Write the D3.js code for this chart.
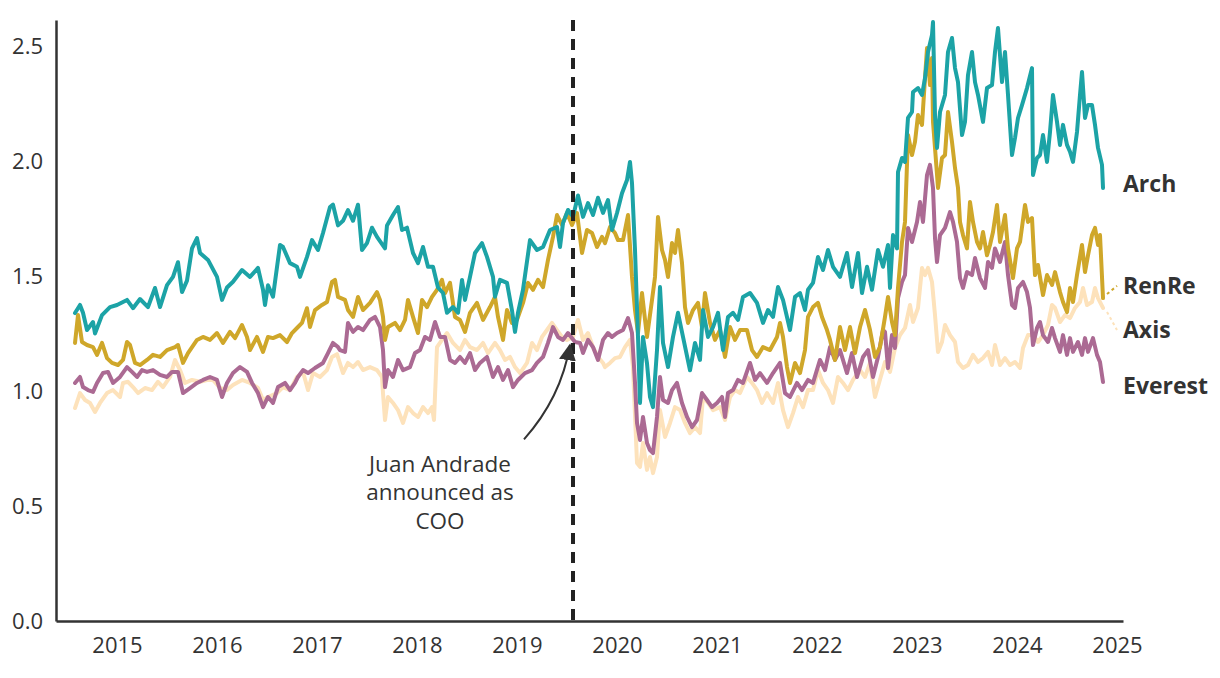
<!DOCTYPE html>
<html><head><meta charset="utf-8">
<script src="https://cdn.jsdelivr.net/npm/d3@7"></script>
<style>
body{margin:0;background:#fff;}
svg{display:block;font-family:"Open Sans",sans-serif;}
</style></head>
<body><svg id="chart" width="1220" height="678"></svg>
<script>
const yTicks=[0,0.5,1.0,1.5,2.0,2.5];
const xTicks=[2015,2016,2017,2018,2019,2020,2021,2022,2023,2024,2025];
const seriesNames=["Axis","Everest","RenRe","Arch"];
const seriesColors={Arch:"#1ca3a6",RenRe:"#cfa72a",Everest:"#ab6a93",Axis:"#fde2bb"};
const labelValues={Arch:1.90,RenRe:1.457,Axis:1.265,Everest:1.022};
const eventYear=2019.56;
const annotationLines=["Juan Andrade","announced as","COO"];

const archData=[[2014.58,1.339],[2014.63,1.374],[2014.66,1.34],[2014.70,1.265],[2014.76,1.30],[2014.78,1.25],[2014.85,1.33],[2014.93,1.365],[2015.00,1.374],[2015.10,1.396],[2015.16,1.36],[2015.23,1.40],[2015.31,1.365],[2015.38,1.448],[2015.43,1.365],[2015.50,1.46],[2015.56,1.496],[2015.61,1.56],[2015.65,1.43],[2015.70,1.48],[2015.75,1.62],[2015.80,1.665],[2015.83,1.60],[2015.91,1.57],[2016.00,1.496],[2016.05,1.396],[2016.10,1.45],[2016.16,1.475],[2016.25,1.526],[2016.33,1.496],[2016.41,1.535],[2016.46,1.44],[2016.48,1.374],[2016.51,1.46],[2016.56,1.41],[2016.63,1.635],[2016.66,1.626],[2016.73,1.556],[2016.80,1.54],[2016.83,1.496],[2016.90,1.583],[2016.95,1.656],[2017.01,1.613],[2017.06,1.687],[2017.13,1.80],[2017.16,1.81],[2017.21,1.72],[2017.26,1.74],[2017.31,1.787],[2017.36,1.74],[2017.41,1.81],[2017.45,1.613],[2017.50,1.643],[2017.55,1.71],[2017.60,1.67],[2017.68,1.62],[2017.70,1.72],[2017.76,1.765],[2017.81,1.80],[2017.85,1.70],[2017.90,1.71],[2017.96,1.60],[2018.01,1.556],[2018.06,1.626],[2018.11,1.54],[2018.16,1.54],[2018.21,1.45],[2018.26,1.426],[2018.30,1.34],[2018.36,1.365],[2018.41,1.34],[2018.45,1.483],[2018.48,1.396],[2018.53,1.496],[2018.58,1.60],[2018.65,1.643],[2018.70,1.583],[2018.76,1.496],[2018.78,1.41],[2018.83,1.483],[2018.90,1.47],[2018.95,1.35],[2018.98,1.257],[2019.01,1.34],[2019.06,1.44],[2019.13,1.656],[2019.20,1.613],[2019.26,1.626],[2019.33,1.70],[2019.40,1.713],[2019.43,1.626],[2019.46,1.73],[2019.51,1.787],[2019.56,1.757],[2019.61,1.85],[2019.66,1.757],[2019.71,1.817],[2019.76,1.765],[2019.81,1.84],[2019.86,1.774],[2019.91,1.83],[2019.95,1.70],[2020.00,1.774],[2020.05,1.86],[2020.10,1.917],[2020.13,1.996],[2020.15,1.904],[2020.18,1.613],[2020.21,1.235],[2020.23,0.948],[2020.26,1.235],[2020.30,1.12],[2020.33,0.974],[2020.36,0.93],[2020.40,1.178],[2020.43,1.452],[2020.46,1.209],[2020.51,1.104],[2020.56,1.235],[2020.61,1.34],[2020.66,1.235],[2020.73,1.09],[2020.78,1.209],[2020.83,1.135],[2020.86,1.352],[2020.91,1.235],[2020.96,1.278],[2021.01,1.34],[2021.06,1.178],[2021.11,1.322],[2021.16,1.34],[2021.21,1.309],[2021.26,1.409],[2021.33,1.426],[2021.40,1.383],[2021.46,1.296],[2021.51,1.352],[2021.56,1.322],[2021.61,1.452],[2021.66,1.396],[2021.73,1.265],[2021.78,1.409],[2021.83,1.426],[2021.88,1.352],[2021.91,1.44],[2021.96,1.47],[2022.01,1.583],[2022.06,1.526],[2022.11,1.613],[2022.16,1.54],[2022.23,1.496],[2022.30,1.60],[2022.35,1.452],[2022.41,1.60],[2022.45,1.426],[2022.50,1.54],[2022.55,1.44],[2022.61,1.613],[2022.66,1.54],[2022.71,1.635],[2022.73,1.448],[2022.76,1.678],[2022.80,1.62],[2022.81,1.952],[2022.85,2.013],[2022.88,1.996],[2022.91,2.187],[2022.95,2.213],[2022.96,2.30],[2023.01,2.317],[2023.05,2.287],[2023.08,2.36],[2023.11,2.474],[2023.15,2.548],[2023.16,2.604],[2023.18,2.20],[2023.20,2.057],[2023.23,2.213],[2023.28,2.287],[2023.31,2.474],[2023.35,2.535],[2023.38,2.404],[2023.41,2.343],[2023.45,2.113],[2023.48,2.17],[2023.51,2.374],[2023.55,2.474],[2023.58,2.343],[2023.61,2.287],[2023.66,2.17],[2023.70,2.317],[2023.75,2.33],[2023.78,2.474],[2023.81,2.578],[2023.85,2.343],[2023.88,2.474],[2023.91,2.287],[2023.95,2.026],[2023.98,2.10],[2024.01,2.187],[2024.05,2.243],[2024.10,2.317],[2024.15,2.404],[2024.16,1.939],[2024.20,2.013],[2024.23,2.026],[2024.26,2.113],[2024.30,1.996],[2024.33,2.126],[2024.36,2.287],[2024.40,2.17],[2024.43,2.07],[2024.46,2.157],[2024.50,2.07],[2024.53,2.04],[2024.56,1.996],[2024.60,2.126],[2024.63,2.287],[2024.65,2.387],[2024.68,2.187],[2024.71,2.243],[2024.75,2.243],[2024.78,2.157],[2024.81,2.057],[2024.85,1.983],[2024.86,1.883]];

const renreData=[[2014.58,1.209],[2014.61,1.33],[2014.65,1.213],[2014.70,1.20],[2014.76,1.191],[2014.80,1.157],[2014.85,1.209],[2014.90,1.143],[2014.95,1.122],[2015.01,1.113],[2015.06,1.135],[2015.10,1.213],[2015.13,1.20],[2015.18,1.122],[2015.23,1.113],[2015.30,1.135],[2015.36,1.157],[2015.43,1.148],[2015.50,1.178],[2015.58,1.191],[2015.61,1.20],[2015.66,1.122],[2015.71,1.165],[2015.80,1.222],[2015.86,1.235],[2015.93,1.222],[2016.00,1.252],[2016.06,1.209],[2016.13,1.257],[2016.18,1.23],[2016.25,1.287],[2016.30,1.235],[2016.33,1.178],[2016.40,1.235],[2016.46,1.17],[2016.51,1.235],[2016.56,1.23],[2016.63,1.243],[2016.70,1.213],[2016.75,1.252],[2016.80,1.274],[2016.85,1.296],[2016.90,1.36],[2016.93,1.278],[2016.98,1.352],[2017.05,1.374],[2017.10,1.387],[2017.15,1.474],[2017.18,1.483],[2017.21,1.409],[2017.28,1.396],[2017.31,1.352],[2017.36,1.322],[2017.41,1.409],[2017.46,1.352],[2017.53,1.383],[2017.60,1.43],[2017.63,1.396],[2017.66,1.322],[2017.68,1.222],[2017.71,1.278],[2017.78,1.296],[2017.83,1.265],[2017.88,1.309],[2017.91,1.396],[2017.96,1.322],[2018.01,1.252],[2018.05,1.396],[2018.10,1.365],[2018.15,1.409],[2018.20,1.44],[2018.25,1.483],[2018.28,1.426],[2018.33,1.47],[2018.38,1.322],[2018.43,1.309],[2018.48,1.257],[2018.53,1.34],[2018.60,1.383],[2018.66,1.309],[2018.73,1.365],[2018.78,1.409],[2018.81,1.322],[2018.86,1.222],[2018.90,1.352],[2018.95,1.296],[2019.00,1.309],[2019.06,1.383],[2019.11,1.47],[2019.16,1.44],[2019.21,1.483],[2019.26,1.452],[2019.31,1.57],[2019.36,1.67],[2019.40,1.765],[2019.45,1.722],[2019.50,1.774],[2019.55,1.722],[2019.60,1.774],[2019.65,1.60],[2019.70,1.70],[2019.75,1.687],[2019.80,1.626],[2019.85,1.67],[2019.88,1.643],[2019.93,1.713],[2019.98,1.687],[2020.01,1.656],[2020.06,1.656],[2020.11,1.765],[2020.15,1.496],[2020.18,1.352],[2020.21,1.252],[2020.25,1.426],[2020.30,1.235],[2020.35,1.396],[2020.38,1.496],[2020.41,1.757],[2020.45,1.613],[2020.48,1.57],[2020.51,1.496],[2020.55,1.643],[2020.58,1.60],[2020.61,1.70],[2020.65,1.556],[2020.68,1.365],[2020.71,1.296],[2020.76,1.352],[2020.81,1.383],[2020.85,1.278],[2020.88,1.426],[2020.93,1.296],[2020.98,1.222],[2021.03,1.265],[2021.08,1.148],[2021.13,1.278],[2021.18,1.222],[2021.23,1.265],[2021.30,1.265],[2021.35,1.178],[2021.40,1.148],[2021.46,1.191],[2021.53,1.178],[2021.60,1.235],[2021.63,1.296],[2021.66,1.235],[2021.70,1.104],[2021.73,1.035],[2021.78,1.122],[2021.83,1.078],[2021.88,1.178],[2021.91,1.322],[2021.96,1.365],[2022.01,1.383],[2022.05,1.322],[2022.10,1.265],[2022.13,1.222],[2022.18,1.135],[2022.23,1.278],[2022.28,1.178],[2022.33,1.278],[2022.38,1.165],[2022.43,1.278],[2022.48,1.352],[2022.53,1.265],[2022.58,1.148],[2022.63,1.191],[2022.68,1.322],[2022.71,1.409],[2022.75,1.30],[2022.78,1.243],[2022.81,1.448],[2022.85,1.648],[2022.88,1.735],[2022.91,2.113],[2022.95,2.026],[2022.98,2.083],[2023.01,2.20],[2023.05,2.157],[2023.08,2.36],[2023.10,2.491],[2023.13,2.33],[2023.15,2.448],[2023.16,2.17],[2023.18,2.057],[2023.21,1.883],[2023.25,2.013],[2023.28,2.026],[2023.31,2.213],[2023.35,2.083],[2023.38,1.97],[2023.41,1.883],[2023.43,1.735],[2023.46,1.678],[2023.50,1.62],[2023.53,1.822],[2023.56,1.735],[2023.60,1.648],[2023.63,1.62],[2023.66,1.691],[2023.70,1.59],[2023.73,1.635],[2023.76,1.691],[2023.80,1.809],[2023.83,1.648],[2023.88,1.765],[2023.91,1.62],[2023.96,1.491],[2024.00,1.62],[2024.03,1.648],[2024.08,1.809],[2024.11,1.735],[2024.15,1.752],[2024.18,1.504],[2024.21,1.548],[2024.26,1.417],[2024.30,1.504],[2024.35,1.461],[2024.38,1.517],[2024.43,1.43],[2024.46,1.387],[2024.50,1.343],[2024.53,1.448],[2024.56,1.387],[2024.60,1.504],[2024.65,1.635],[2024.68,1.517],[2024.71,1.59],[2024.75,1.678],[2024.78,1.709],[2024.81,1.635],[2024.83,1.678],[2024.86,1.404]];

const everestData=[[2014.58,1.035],[2014.63,1.061],[2014.66,1.017],[2014.71,1.004],[2014.76,0.996],[2014.80,1.035],[2014.86,1.078],[2014.91,1.083],[2014.96,1.035],[2015.03,1.061],[2015.10,1.104],[2015.15,1.083],[2015.20,1.061],[2015.25,1.091],[2015.30,1.083],[2015.36,1.091],[2015.43,1.07],[2015.50,1.061],[2015.55,1.083],[2015.61,1.083],[2015.66,0.991],[2015.73,1.013],[2015.80,1.035],[2015.86,1.048],[2015.93,1.061],[2016.00,1.048],[2016.05,0.974],[2016.10,1.035],[2016.16,1.078],[2016.23,1.104],[2016.30,1.083],[2016.35,1.035],[2016.41,0.991],[2016.46,0.93],[2016.51,0.974],[2016.56,0.948],[2016.61,1.017],[2016.68,1.035],[2016.73,1.004],[2016.78,1.035],[2016.81,1.061],[2016.86,1.091],[2016.91,1.078],[2016.98,1.10],[2017.06,1.122],[2017.11,1.165],[2017.16,1.209],[2017.21,1.191],[2017.23,1.178],[2017.28,1.17],[2017.31,1.296],[2017.36,1.257],[2017.41,1.278],[2017.46,1.265],[2017.53,1.309],[2017.58,1.322],[2017.63,1.278],[2017.66,1.178],[2017.68,1.017],[2017.71,1.091],[2017.76,1.061],[2017.81,1.135],[2017.86,1.091],[2017.93,1.104],[2017.98,1.165],[2018.03,1.178],[2018.08,1.235],[2018.13,1.222],[2018.18,1.30],[2018.23,1.235],[2018.28,1.235],[2018.33,1.135],[2018.38,1.122],[2018.43,1.148],[2018.48,1.122],[2018.53,1.165],[2018.58,1.091],[2018.63,1.122],[2018.70,1.148],[2018.76,1.061],[2018.81,1.104],[2018.86,1.048],[2018.91,1.091],[2018.96,1.017],[2019.01,1.048],[2019.08,1.078],[2019.15,1.091],[2019.20,1.122],[2019.26,1.148],[2019.31,1.209],[2019.36,1.278],[2019.41,1.235],[2019.46,1.222],[2019.51,1.252],[2019.58,1.213],[2019.63,1.209],[2019.66,1.165],[2019.71,1.222],[2019.76,1.191],[2019.81,1.135],[2019.86,1.222],[2019.91,1.252],[2019.95,1.235],[2020.00,1.252],[2020.06,1.265],[2020.11,1.317],[2020.15,1.252],[2020.18,1.035],[2020.20,0.861],[2020.23,0.787],[2020.26,0.887],[2020.30,0.774],[2020.33,0.743],[2020.36,0.73],[2020.40,0.887],[2020.43,1.061],[2020.46,0.961],[2020.51,0.948],[2020.55,1.004],[2020.60,1.035],[2020.65,0.948],[2020.70,0.887],[2020.75,0.843],[2020.80,0.874],[2020.85,0.991],[2020.90,0.961],[2020.95,0.93],[2021.00,0.948],[2021.05,0.974],[2021.08,0.887],[2021.11,0.991],[2021.16,1.004],[2021.21,1.048],[2021.26,1.035],[2021.33,1.122],[2021.38,1.048],[2021.43,1.078],[2021.50,1.035],[2021.56,1.078],[2021.63,1.122],[2021.68,0.991],[2021.73,0.974],[2021.80,1.035],[2021.85,1.004],[2021.91,1.048],[2021.96,1.035],[2022.03,1.135],[2022.08,1.091],[2022.13,1.191],[2022.18,1.135],[2022.23,1.178],[2022.30,1.078],[2022.35,1.165],[2022.40,1.061],[2022.46,1.148],[2022.51,1.178],[2022.56,1.061],[2022.61,1.148],[2022.66,1.265],[2022.68,1.257],[2022.71,1.10],[2022.75,1.243],[2022.78,1.187],[2022.81,1.404],[2022.85,1.474],[2022.88,1.504],[2022.91,1.709],[2022.95,1.648],[2023.00,1.735],[2023.03,1.822],[2023.06,1.735],[2023.10,1.939],[2023.13,1.983],[2023.16,1.883],[2023.18,1.665],[2023.20,1.561],[2023.23,1.678],[2023.28,1.709],[2023.33,1.778],[2023.36,1.735],[2023.40,1.648],[2023.43,1.491],[2023.46,1.448],[2023.50,1.517],[2023.55,1.504],[2023.58,1.578],[2023.63,1.491],[2023.68,1.448],[2023.71,1.561],[2023.75,1.535],[2023.78,1.62],[2023.83,1.561],[2023.88,1.648],[2023.91,1.504],[2023.95,1.374],[2023.98,1.361],[2024.01,1.448],[2024.06,1.474],[2024.10,1.43],[2024.13,1.361],[2024.16,1.20],[2024.20,1.274],[2024.23,1.30],[2024.26,1.243],[2024.31,1.213],[2024.35,1.274],[2024.38,1.23],[2024.43,1.17],[2024.46,1.243],[2024.50,1.157],[2024.53,1.23],[2024.56,1.17],[2024.61,1.213],[2024.65,1.157],[2024.68,1.23],[2024.71,1.17],[2024.76,1.23],[2024.80,1.157],[2024.83,1.126],[2024.86,1.039]];

const axisData=[[2014.58,0.926],[2014.63,0.991],[2014.68,0.961],[2014.73,0.948],[2014.78,0.909],[2014.83,0.948],[2014.90,0.991],[2014.96,1.004],[2015.03,0.974],[2015.06,1.035],[2015.11,1.04],[2015.16,1.017],[2015.21,0.991],[2015.28,1.013],[2015.35,1.004],[2015.41,1.04],[2015.46,1.017],[2015.53,1.061],[2015.58,1.135],[2015.63,1.091],[2015.68,1.035],[2015.75,1.048],[2015.83,1.04],[2015.90,1.048],[2015.96,1.048],[2016.03,1.013],[2016.10,1.004],[2016.16,1.026],[2016.25,1.048],[2016.33,1.035],[2016.41,1.013],[2016.46,0.961],[2016.51,0.974],[2016.60,0.991],[2016.66,1.017],[2016.73,1.004],[2016.80,1.061],[2016.86,1.083],[2016.91,1.004],[2016.96,1.078],[2017.03,1.061],[2017.10,1.091],[2017.15,1.148],[2017.20,1.16],[2017.26,1.078],[2017.31,1.122],[2017.36,1.104],[2017.41,1.126],[2017.46,1.091],[2017.53,1.104],[2017.60,1.091],[2017.65,1.061],[2017.66,0.991],[2017.68,0.874],[2017.71,0.974],[2017.76,0.948],[2017.81,0.917],[2017.86,0.861],[2017.91,0.93],[2017.96,0.904],[2018.01,0.887],[2018.06,0.93],[2018.11,0.904],[2018.15,0.93],[2018.17,0.874],[2018.20,1.191],[2018.25,1.222],[2018.30,1.252],[2018.36,1.209],[2018.43,1.178],[2018.48,1.222],[2018.53,1.191],[2018.60,1.178],[2018.66,1.209],[2018.71,1.165],[2018.78,1.209],[2018.83,1.178],[2018.88,1.135],[2018.93,1.148],[2018.98,1.104],[2019.03,1.078],[2019.10,1.122],[2019.15,1.209],[2019.20,1.178],[2019.25,1.235],[2019.30,1.265],[2019.35,1.296],[2019.40,1.265],[2019.45,1.235],[2019.50,1.222],[2019.56,1.235],[2019.61,1.309],[2019.66,1.222],[2019.71,1.252],[2019.76,1.191],[2019.81,1.148],[2019.86,1.122],[2019.88,1.104],[2019.93,1.122],[2019.98,1.143],[2020.03,1.148],[2020.08,1.191],[2020.13,1.222],[2020.16,1.104],[2020.20,0.687],[2020.23,0.67],[2020.26,0.774],[2020.30,0.657],[2020.33,0.713],[2020.36,0.643],[2020.40,0.713],[2020.43,0.917],[2020.48,0.80],[2020.53,0.861],[2020.58,0.93],[2020.63,0.917],[2020.68,0.861],[2020.73,0.817],[2020.78,0.843],[2020.83,0.817],[2020.86,0.974],[2020.91,0.948],[2020.96,0.917],[2021.03,0.93],[2021.08,0.874],[2021.13,0.974],[2021.18,1.004],[2021.23,0.991],[2021.30,1.061],[2021.35,1.035],[2021.40,1.004],[2021.45,0.948],[2021.50,0.991],[2021.56,0.948],[2021.61,1.035],[2021.66,0.917],[2021.71,0.843],[2021.76,0.904],[2021.81,0.974],[2021.86,0.93],[2021.91,1.004],[2021.96,1.004],[2022.01,1.091],[2022.06,1.035],[2022.11,1.004],[2022.16,0.948],[2022.21,1.061],[2022.26,1.035],[2022.31,1.004],[2022.36,1.048],[2022.43,1.091],[2022.48,1.061],[2022.53,1.122],[2022.58,0.974],[2022.63,1.05],[2022.68,1.126],[2022.73,1.083],[2022.78,1.187],[2022.83,1.243],[2022.88,1.274],[2022.93,1.374],[2022.96,1.30],[2023.01,1.361],[2023.05,1.535],[2023.08,1.504],[2023.11,1.535],[2023.15,1.474],[2023.18,1.33],[2023.21,1.17],[2023.25,1.213],[2023.28,1.287],[2023.33,1.243],[2023.38,1.213],[2023.41,1.126],[2023.46,1.10],[2023.51,1.113],[2023.56,1.157],[2023.61,1.126],[2023.66,1.143],[2023.71,1.17],[2023.75,1.113],[2023.78,1.20],[2023.83,1.113],[2023.88,1.143],[2023.93,1.113],[2023.98,1.126],[2024.03,1.10],[2024.06,1.187],[2024.11,1.243],[2024.16,1.243],[2024.21,1.213],[2024.26,1.243],[2024.31,1.287],[2024.35,1.374],[2024.38,1.361],[2024.43,1.30],[2024.48,1.33],[2024.53,1.317],[2024.58,1.361],[2024.63,1.387],[2024.66,1.448],[2024.70,1.374],[2024.75,1.387],[2024.78,1.448],[2024.81,1.404],[2024.86,1.361]];

const dataBySeries={Arch:archData,RenRe:renreData,Everest:everestData,Axis:axisData};

const svg=d3.select("#chart");
const x=d3.scaleLinear().domain([2014.39,2025.06]).range([56,1123]);
const y=d3.scaleLinear().domain([0,2.613]).range([621,20]);
const ink="#333333";

// axes
const gx=svg.append("g").attr("transform",`translate(0,${y(0)})`)
  .call(d3.axisBottom(x).tickValues(xTicks).tickFormat(d3.format("d")).tickSize(0).tickPadding(16));
const gy=svg.append("g").attr("transform",`translate(${x.range()[0]},0)`)
  .call(d3.axisLeft(y).tickValues(yTicks).tickFormat(d3.format(".1f")).tickSize(0).tickPadding(13));
[gx,gy].forEach(g=>{
  g.select(".domain").attr("stroke",ink).attr("stroke-width",2.5);
  g.selectAll("text").attr("fill",ink).style("font-size","22px").style("font-family","Open Sans");
});

// lines
const line=d3.line().x(d=>x(d[0])).y(d=>y(d[1]));
svg.append("g").selectAll("path").data(seriesNames).join("path")
  .attr("d",n=>line(dataBySeries[n]))
  .attr("fill","none").attr("stroke",n=>seriesColors[n])
  .attr("stroke-width",4).attr("stroke-linejoin","round").attr("stroke-linecap","round");

// event line
svg.append("line").attr("x1",x(eventYear)).attr("x2",x(eventYear))
  .attr("y1",y(2.613)).attr("y2",y(0))
  .attr("stroke","#222").attr("stroke-width",4).attr("stroke-dasharray","11,8");

// labels
const lastX=x(2024.86);
seriesNames.forEach(n=>{
  const d=dataBySeries[n], last=d[d.length-1];
  if(n==="RenRe"||n==="Axis"){
    svg.append("line").attr("x1",x(last[0])+4).attr("y1",y(last[1])+(n==="RenRe"?-4:4))
      .attr("x2",x(last[0])+14).attr("y2",y(labelValues[n]))
      .attr("stroke",seriesColors[n]).attr("stroke-width",2).attr("stroke-dasharray","3,3");
  }
  svg.append("text").attr("x",lastX+20).attr("y",y(labelValues[n]))
    .attr("dy","0.35em").attr("fill",ink).style("font-size","23px").style("font-weight","700")
    .text(n);
});

// annotation
annotationLines.forEach((t,i)=>{
  svg.append("text").attr("text-anchor","middle").attr("fill",ink).style("font-size","22.5px")
    .attr("x",x(2018.23)).attr("y",y(0.648)+i*28.5).text(t);
});
svg.append("defs").append("marker").attr("id","arrow").attr("viewBox","0 0 10 10")
  .attr("refX",9).attr("refY",5).attr("markerWidth",17).attr("markerHeight",17)
  .attr("markerUnits","userSpaceOnUse").attr("orient","auto")
  .append("path").attr("d","M0,0 L10,5 L0,10 z").attr("fill",ink);
const p0=[x(2019.07),y(0.79)], p1=[x(2019.53),y(1.20)], c=[x(2019.44),y(0.97)];
svg.append("path").attr("d",`M${p0[0]},${p0[1]} Q${c[0]},${c[1]} ${p1[0]},${p1[1]}`)
  .attr("fill","none").attr("stroke",ink).attr("stroke-width",2).attr("marker-end","url(#arrow)");
</script></body></html>
